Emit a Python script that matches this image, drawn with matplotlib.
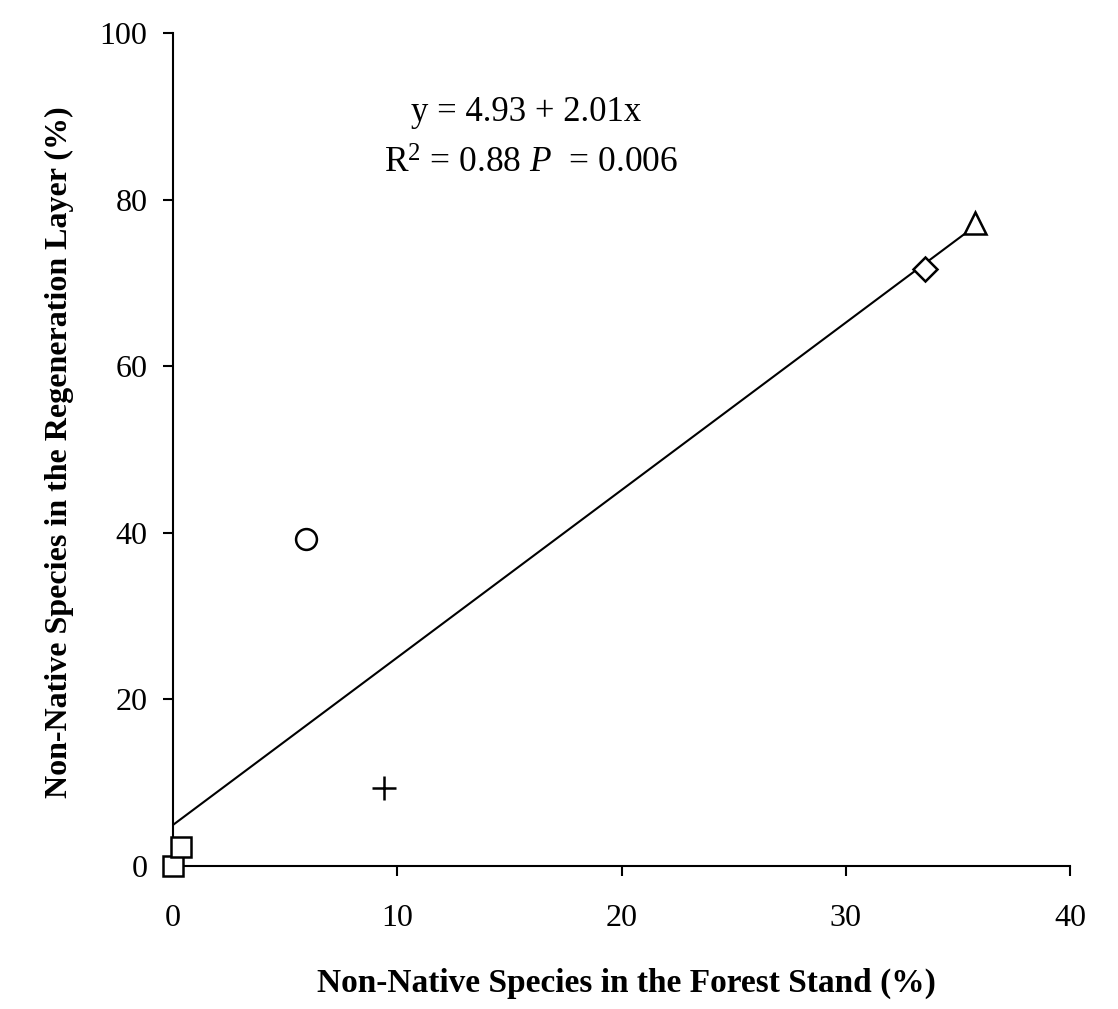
import matplotlib
matplotlib.use("Agg")
import matplotlib.pyplot as plt
import numpy as np

# data
markers = ["s", "s", "o", "+", "D", "^"]
stand_pct = [0.0, 0.35, 5.95, 9.4, 33.55, 35.75]
regen_pct = [0.0, 2.3, 39.3, 9.4, 71.7, 77.2]
sizes = [15, 15, 15, 17, 12, 16]

intercept = 4.93
slope = 2.01
fit_range = [0.0, 35.8]

xticks = [0, 10, 20, 30, 40]
yticks = [0, 20, 40, 60, 80, 100]

plt.rcParams["font.family"] = ["Liberation Serif", "DejaVu Serif"]
plt.rcParams["mathtext.fontset"] = "custom"
plt.rcParams["mathtext.rm"] = "Liberation Serif"
plt.rcParams["mathtext.it"] = "Liberation Serif:italic"

W, H = 1118, 1009
fig = plt.figure(figsize=(W / 100, H / 100), dpi=100)
ax = fig.add_axes([173 / W, 1 - 866 / H, 897 / W, 833 / H])

xs = np.array(fit_range)
ax.plot(xs, intercept + slope * xs, color="black", lw=1.5, zorder=2)

for m, x, y, s in zip(markers, stand_pct, regen_pct, sizes):
    ax.plot(x, y, marker=m, ms=s, mfc="white" if m != "+" else "black",
            mec="black", mew=1.8, ls="none", zorder=3, clip_on=False)

ax.set_xlim(0, 40)
ax.set_ylim(0, 100)
ax.set_xticks(xticks)
ax.set_yticks(yticks)
ax.spines["top"].set_visible(False)
ax.spines["right"].set_visible(False)
for sp in ("left", "bottom"):
    ax.spines[sp].set_linewidth(1.5)
ax.tick_params(direction="out", length=7.5, width=1.5, labelsize=23)
ax.tick_params(axis="x", pad=20)
ax.tick_params(axis="y", pad=11)

# axis titles
fig.text(626 / W, 1 - 992 / H, "Non-Native Species in the Forest Stand (%)",
         ha="center", va="baseline", fontsize=24, fontweight="bold")
fig.text(59 / W, 1 - 452 / H, "Non-Native Species in the Regeneration Layer (%)",
         ha="center", va="center", rotation=90, fontsize=23, fontweight="bold")

# regression annotation
fig.text(526 / W, 1 - 121 / H, "y = 4.93 + 2.01x",
         ha="center", va="baseline", fontsize=25)
fig.text(531 / W, 1 - 173 / H, r"R$^2$ = 0.88 $\it{P}$  = 0.006",
         ha="center", va="baseline", fontsize=25.5)

fig.savefig("out.png", dpi=100, facecolor="white")
